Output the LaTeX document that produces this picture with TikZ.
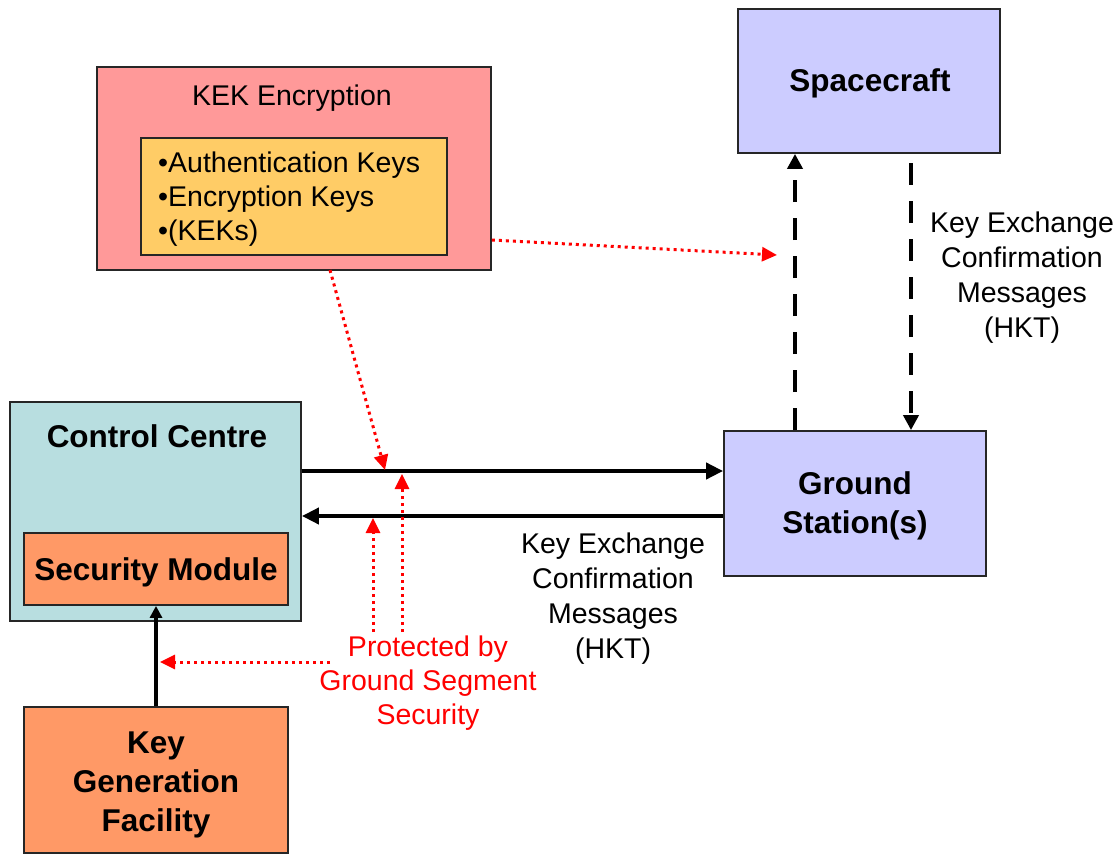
\documentclass[tikz,border=0pt]{standalone}
\usepackage{fontspec}
\setmainfont{Liberation Sans}
\usetikzlibrary{arrows.meta}
\definecolor{kekpink}{HTML}{FF9999}
\definecolor{keyyellow}{HTML}{FFCC66}
\definecolor{lavender}{HTML}{CCCCFF}
\definecolor{ccyan}{HTML}{B8DEE0}
\definecolor{orangebox}{HTML}{FF9966}
\definecolor{redline}{HTML}{FF0000}
\tikzset{
  box/.style={draw=black!85, line width=1.8pt, inner sep=0pt},
  normtext/.style={font=\fontsize{28.5}{35}\selectfont, align=center, inner sep=0pt, yshift=-3pt},
  boldtext/.style={font=\fontsize{31.5}{39}\selectfont\bfseries, align=center, inner sep=0pt, yshift=-3pt},
  blkarrow/.style={line width=4pt, -{Triangle[length=17pt,width=16pt]}},
  dasharrow/.style={line width=4pt, dash pattern=on 22pt off 16pt, -{Triangle[length=15pt,width=15pt]}},
  redarrow/.style={draw=redline, line width=3pt, dash pattern=on 3pt off 4pt, -{Triangle[length=15pt,width=14pt]}, color=redline},
}
\begin{document}
\begin{tikzpicture}[x=1pt,y=-1pt]
\useasboundingbox (0,0) rectangle (1120,854);
% boxes
\node[box, fill=kekpink, minimum width=394pt, minimum height=203pt] (kek) at (294,168.5) {};
\node[normtext] (kektitle) at (292,95) {KEK Encryption};
\node[box, fill=keyyellow, minimum width=306pt, minimum height=117pt] (keys) at (294,196.5) {};
\node[normtext, align=left, anchor=west, font=\fontsize{28.5}{34}\selectfont] (keystext) at (158,196.5)
  {•Authentication Keys\\•Encryption Keys\\•(KEKs)};
\node[box, fill=lavender, minimum width=262pt, minimum height=144pt] (sc) at (869,81) {};
\node[boldtext] (sctext) at (870,80) {Spacecraft};
\node[box, fill=ccyan, minimum width=291pt, minimum height=219pt] (cc) at (155.5,511.5) {};
\node[boldtext] (cctext) at (157,433) {Control Centre};
\node[box, fill=orangebox, minimum width=264pt, minimum height=72pt] (sm) at (156,569) {};
\node[boldtext] (smtext) at (156,569) {Security Module};
\node[box, fill=lavender, minimum width=262pt, minimum height=145pt] (gs) at (855,503.5) {};
\node[boldtext] (gstext) at (855,503) {Ground\\Station(s)};
\node[box, fill=orangebox, minimum width=264pt, minimum height=146pt] (kgf) at (156,780) {};
\node[boldtext] (kgftext) at (156,782) {Key\\Generation\\Facility};
% labels
\node[normtext] (lab1) at (1022,275) {Key Exchange\\Confirmation\\Messages\\(HKT)};
\node[normtext] (lab2) at (613,596) {Key Exchange\\Confirmation\\Messages\\(HKT)};
\node[normtext, text=redline, font=\fontsize{28.5}{34}\selectfont] (prot) at (428,680) {Protected by\\Ground Segment\\Security};
% black connectors
\draw[blkarrow] (cc.east |- 0,471) -- (gs.west |- 0,471);
\draw[blkarrow] (gs.west |- 0,516) -- (cc.east |- 0,516);
\draw[blkarrow, -{Triangle[length=12pt,width=12pt]}] (kgf.north) -- (sm.south);
\draw[dasharrow] (gs.north -| 795,0) -- (sc.south -| 795,0);
\coordinate (dtop) at (911,163);
\draw[dasharrow] (dtop) -- (gs.north -| 911,0);
% red connectors
\coordinate (redend1) at (777,255);
\coordinate (redend2) at (385,470);
\coordinate (redstart2) at (330,270);
\coordinate (redup1s) at (402,632);
\coordinate (redup1e) at (402,474);
\coordinate (redup2s) at (373,632);
\coordinate (redup2e) at (373,518);
\coordinate (redleft) at (330,662);
\path (kgf.north |- 0,662) ++(4,0) coordinate (redleftend);
\draw[redarrow] (kek.east |- 0,240) -- (redend1);
\draw[redarrow] (redstart2) -- (redend2);
\draw[redarrow] (redup1s) -- (redup1e);
\draw[redarrow] (redup2s) -- (redup2e);
\draw[redarrow] (redleft) -- (redleftend);
\end{tikzpicture}
\end{document}
